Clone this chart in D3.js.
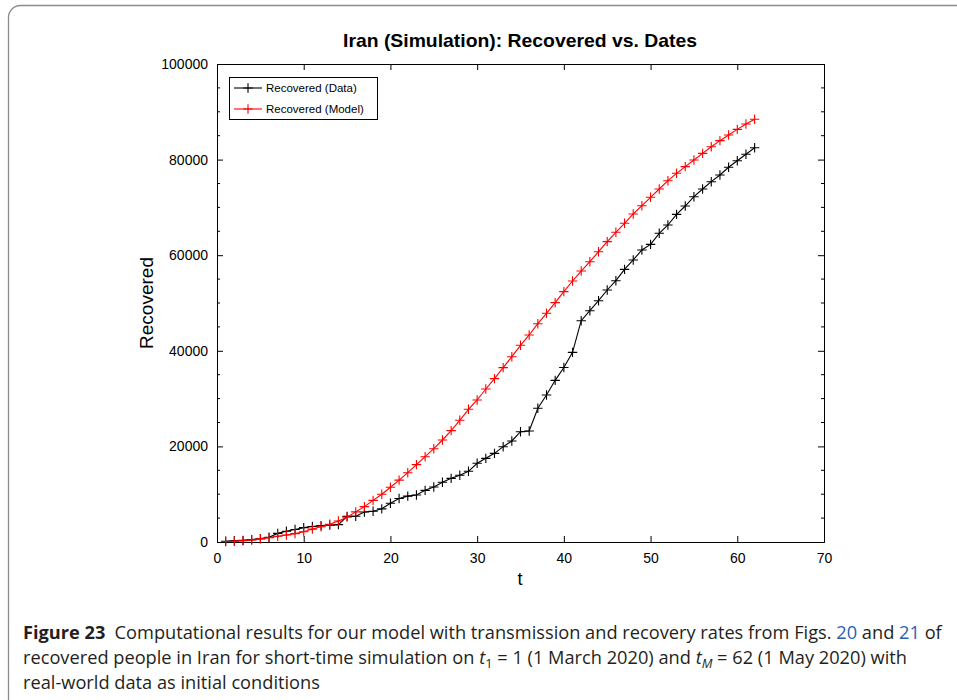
<!DOCTYPE html>
<html>
<head>
<meta charset="utf-8">
<script src="https://cdn.jsdelivr.net/npm/d3@7"></script>
<style>
  html, body { margin: 0; padding: 0; background: #fff; }
  svg { display: block; }
</style>
</head>
<body>
<svg id="chart" width="957" height="700"></svg>
<script>
// ---- Data ----
const days = [1,2,3,4,5,6,7,8,9,10,11,12,13,14,15,16,17,18,19,20,21,22,23,24,25,26,27,28,29,30,31,32,33,34,35,36,37,38,39,40,41,42,43,44,45,46,47,48,49,50,51,52,53,54,55,56,57,58,59,60,61,62];
const recoveredData = [150,250,350,500,700,1000,1800,2250,2600,3000,3250,3420,3530,3630,5370,5400,6280,6420,6940,8100,9100,9600,9830,10810,11510,12490,13320,13950,14790,16460,17500,18550,19940,21130,23080,23220,27970,30750,33820,36500,39680,46300,48390,50480,52720,54670,57040,59000,61090,62270,64580,66320,68550,70290,72240,73850,75380,76780,78390,79770,81110,82490];
const recoveredModel = [100,150,270,420,650,900,1200,1450,1750,2150,2700,3200,3700,4400,5200,6300,7400,8700,10000,11450,12950,14500,16180,17850,19520,21340,23290,25460,27760,29710,32010,34170,36470,38770,41150,43310,45670,47840,50070,52370,54600,56690,58640,60730,62830,64790,66670,68620,70360,72110,73850,75590,77130,78520,79920,81310,82700,83960,85150,86330,87450,88430];
const xTicks = [0,10,20,30,40,50,60,70];
const yTicks = [0,20000,40000,60000,80000,100000];
const seriesNames = ["Recovered (Data)", "Recovered (Model)"];
const seriesColors = ["#000000", "#ff0000"];
const titleText = "Iran (Simulation): Recovered vs. Dates";
const xLabel = "t";
const yLabel = "Recovered";

const svg = d3.select("#chart");
svg.append("rect").attr("width", 957).attr("height", 700).attr("fill", "#fff");

// outer frame (rounded box)
svg.append("rect")
  .attr("x", 8.5).attr("y", 5.5)
  .attr("width", 1000).attr("height", 800)
  .attr("rx", 12).attr("ry", 12)
  .attr("fill", "none").attr("stroke", "#8c8c8c").attr("stroke-width", 1.3);

const L = 217, R = 824, T = 64, B = 542;
const x = d3.scaleLinear().domain([0, 70]).range([L, R]);
const y = d3.scaleLinear().domain([0, 100000]).range([B, T]);

const font = "'Liberation Sans', Arial, sans-serif";

// title
svg.append("text")
  .attr("x", 520).attr("y", 47)
  .attr("text-anchor", "middle")
  .attr("font-family", font).attr("font-weight", "bold").attr("font-size", 19)
  .attr("textLength", 354).attr("lengthAdjust", "spacingAndGlyphs")
  .text(titleText);

// axes
const axB = d3.axisBottom(x).tickValues(xTicks).tickSize(-6).tickPadding(11).tickFormat(d3.format("d"));
const axT = d3.axisTop(x).tickValues(xTicks).tickSize(-6).tickFormat("");
const axLft = d3.axisLeft(y).tickValues(yTicks).tickSize(-6).tickPadding(9).tickFormat(d3.format("d"));
const axRgt = d3.axisRight(y).tickValues(yTicks).tickSize(-6).tickFormat("");

function styleAxis(g) {
  g.select(".domain").attr("stroke", "#000").attr("stroke-width", 1);
  g.selectAll(".tick line").attr("stroke", "#000").attr("stroke-width", 1);
  g.selectAll(".tick text").attr("font-family", font).attr("font-size", 14).attr("fill", "#000");
}
svg.append("g").attr("transform", `translate(0,${B})`).call(axB).call(styleAxis);
svg.append("g").attr("transform", `translate(0,${T})`).call(axT).call(styleAxis);
svg.append("g").attr("transform", `translate(${L},0)`).call(axLft).call(styleAxis);
svg.append("g").attr("transform", `translate(${R},0)`).call(axRgt).call(styleAxis);

// minor y ticks
const minorY = y.ticks(20).filter(v => yTicks.indexOf(v) < 0);
const minorG = svg.append("g").attr("stroke", "#000").attr("stroke-width", 1);
minorG.selectAll("line.ml").data(minorY).join("line")
  .attr("x1", L).attr("x2", L + 3).attr("y1", d => y(d)).attr("y2", d => y(d));
minorG.selectAll("line.mr").data(minorY).join("line")
  .attr("x1", R).attr("x2", R - 3).attr("y1", d => y(d)).attr("y2", d => y(d));

// axis labels
svg.append("text")
  .attr("x", 520).attr("y", 585)
  .attr("text-anchor", "middle")
  .attr("font-family", font).attr("font-size", 18)
  .text(xLabel);
svg.append("text")
  .attr("transform", `translate(153,${(T + B) / 2}) rotate(-90)`)
  .attr("text-anchor", "middle")
  .attr("font-family", font).attr("font-size", 19)
  .text(yLabel);

// series
const allSeries = [recoveredData, recoveredModel];
const line = d3.line().x(d => x(d[0])).y(d => y(d[1]));
const ms = 4.7;
allSeries.forEach((vals, i) => {
  const pts = days.map((d, k) => [d, vals[k]]);
  const g = svg.append("g");
  g.append("path").datum(pts)
    .attr("d", line).attr("fill", "none")
    .attr("stroke", seriesColors[i]).attr("stroke-width", 1.1);
  g.selectAll("path.m").data(pts).join("path")
    .attr("class", "m")
    .attr("d", d => {
      const px = x(d[0]), py = y(d[1]);
      return `M${px - ms},${py}H${px + ms}M${px},${py - ms}V${py + ms}`;
    })
    .attr("stroke", seriesColors[i]).attr("stroke-width", 1.1).attr("fill", "none");
});

// legend
const lg = svg.append("g");
lg.append("rect").attr("x", 229.5).attr("y", 77.5).attr("width", 148).attr("height", 42)
  .attr("fill", "#fff").attr("stroke", "#000").attr("stroke-width", 1);
seriesNames.forEach((name, i) => {
  const yy = 88 + i * 21;
  lg.append("line").attr("x1", 234).attr("x2", 262).attr("y1", yy).attr("y2", yy)
    .attr("stroke", seriesColors[i]).attr("stroke-width", 1.1);
  lg.append("path").attr("d", `M${248 - ms},${yy}H${248 + ms}M248,${yy - ms}V${yy + ms}`)
    .attr("stroke", seriesColors[i]).attr("stroke-width", 1.1);
  lg.append("text").attr("x", 266).attr("y", yy + 4)
    .attr("font-family", font).attr("font-size", 11.5).text(name);
});

// caption
const capFont = "'Open Sans', 'Noto Sans', sans-serif";
const capG = svg.append("g").attr("font-family", capFont).attr("font-size", 18.5).attr("fill", "#231f20");
const t1 = capG.append("text").attr("x", 0).attr("y", 639);
t1.append("tspan").attr("font-weight", "bold").text("Figure 23");
t1.append("tspan").text("\u2002Computational results for our model with transmission and recovery rates from Figs. ");
t1.append("tspan").attr("fill", "#2b5fb4").text("20");
t1.append("tspan").text(" and ");
t1.append("tspan").attr("fill", "#2b5fb4").text("21");
t1.append("tspan").text(" of");
const t2 = capG.append("text").attr("x", 0).attr("y", 664);
t2.append("tspan").text("recovered people in Iran for short-time simulation on ");
t2.append("tspan").attr("font-style", "italic").text("t");
t2.append("tspan").attr("font-size", 13).attr("dy", 4).text("1");
t2.append("tspan").attr("dy", -4).text(" = 1 (1 March 2020) and ");
t2.append("tspan").attr("font-style", "italic").text("t");
t2.append("tspan").attr("font-size", 13).attr("font-style", "italic").attr("dy", 4).text("M");
t2.append("tspan").attr("dy", -4).text(" = 62 (1 May 2020) with");
const t3 = capG.append("text").attr("x", 0).attr("y", 689);
t3.append("tspan").text("real-world data as initial conditions");

const w1 = t1.node().getComputedTextLength();
const sx = (942 - 23) / w1;
capG.attr("transform", `translate(23,0) scale(${sx},1)`);
</script>
</body>
</html>
